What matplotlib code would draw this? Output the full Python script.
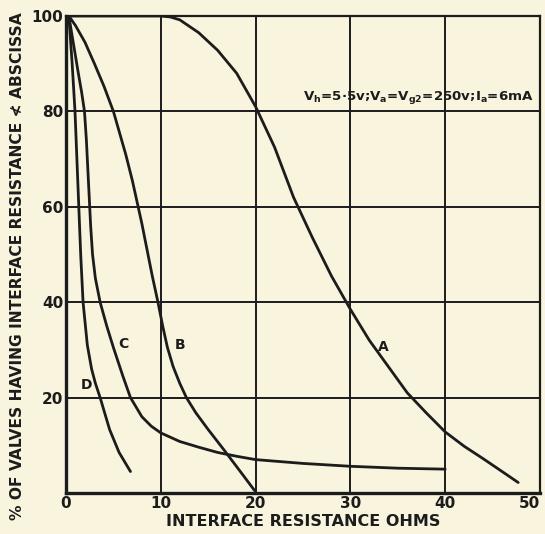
import matplotlib
matplotlib.use("Agg")
import matplotlib.pyplot as plt

# ---- data ----
x_ticks = [0, 10, 20, 30, 40, 50]
y_ticks = [20, 40, 60, 80, 100]

a_x = [0, 10, 11, 12, 14, 16, 18, 20, 22, 24, 26, 28, 30, 32, 34, 36, 38, 40, 42, 44, 46, 47.7]
a_y = [100, 100, 99.8, 99.2, 96.5, 92.8, 88, 81, 72.5, 62, 53.5, 45.5, 38.5, 32, 26.5, 21, 16.8, 12.8, 9.8, 7.2, 4.5, 2.2]

b_x = [0.3, 1.0, 2.0, 3.0, 4.0, 5.0, 6.3, 7.0, 7.5, 8.0, 8.5, 9.1, 9.7, 10.2, 10.7, 11.3, 12.0, 12.7, 13.7, 15.0, 16.6, 18.2, 19.9]
b_y = [100, 98, 94.5, 90, 85.3, 80, 71, 65.5, 61, 56.5, 51.5, 45.5, 40, 35, 30.5, 26.5, 23, 20, 16.8, 13.3, 9.2, 5, 0.5]

c_x = [0.3, 0.8, 1.3, 1.65, 1.95, 2.15, 2.3, 2.45, 2.6, 2.8, 3.1, 3.6, 4.3, 5.0, 6.0, 6.8, 8.0, 9.0, 10, 12, 14, 16, 18, 20, 25, 30, 35, 40]
c_y = [100, 94, 88, 84, 80, 74, 68, 62, 56, 50, 45, 40, 35, 30.5, 24.5, 20, 16, 14, 12.6, 10.8, 9.6, 8.5, 7.7, 7.0, 6.2, 5.6, 5.2, 5.0]

d_x = [0.3, 0.65, 0.95, 1.15, 1.35, 1.55, 1.8, 2.25, 2.7, 3.1, 3.6, 4.6, 5.6, 6.8]
d_y = [100, 90, 80, 70, 60, 50, 40, 31, 26, 23, 20, 13.3, 8.5, 4.5]

curve_labels = ["A", "B", "C", "D"]
label_x = [33.5, 12.0, 6.0, 2.2]
label_y = [30.7, 31.0, 31.3, 22.7]

note = r"V$_h$=5·5v;V$_a$=V$_{g2}$=250v;I$_a$=6mA"
x_label = "INTERFACE RESISTANCE OHMS"
y_label = "% OF VALVES HAVING INTERFACE RESISTANCE \u226e ABSCISSA"

# ---- style ----
bg = "#f8f4de"
ink = "#1c1c1c"
plt.rcParams["mathtext.fontset"] = "dejavusans"
plt.rcParams["mathtext.default"] = "bf"

fig = plt.figure(figsize=(5.45, 5.34), dpi=100, facecolor=bg)
ax = fig.add_axes([66 / 545, 1 - 493 / 534, 474 / 545, 477 / 534], facecolor=bg)
ax.set_xlim(0, 50)
ax.set_ylim(0, 100)

for gx in x_ticks[1:-1]:
    ax.axvline(gx, color=ink, lw=1.4, zorder=1)
for gy in y_ticks[:-1]:
    ax.axhline(gy, color=ink, lw=1.4, zorder=1)

for xs, ys in [(a_x, a_y), (b_x, b_y), (c_x, c_y), (d_x, d_y)]:
    ax.plot(xs, ys, color=ink, lw=2.0, solid_capstyle="round", solid_joinstyle="round", zorder=3)

for t, lx, ly in zip(curve_labels, label_x, label_y):
    ax.text(lx, ly, t, ha="center", va="center", fontsize=10, fontweight="bold", color=ink, zorder=4)

ax.text(25.0, 83.0, note, ha="left", va="center", fontsize=9.6, fontweight="bold", color=ink, zorder=4)

for side in ["left", "bottom"]:
    ax.spines[side].set_linewidth(2.4)
for side in ["top", "right"]:
    ax.spines[side].set_linewidth(1.6)
for s in ax.spines.values():
    s.set_color(ink)

ax.set_xticks(x_ticks)
ax.set_yticks(y_ticks)
ax.set_xticklabels([str(v) for v in x_ticks], fontsize=11, fontweight="bold", color=ink)
ax.set_yticklabels([str(v) for v in y_ticks], fontsize=11, fontweight="bold", color=ink)
ax.tick_params(length=0, pad=2)
for lbl in ax.get_xticklabels()[-1:]:
    lbl.set_ha("right")

fig.text(303 / 545, 1 - 521 / 534, x_label, ha="center", va="center", fontsize=11.5, fontweight="bold", color=ink)
fig.text(17 / 545, 1 - 266 / 534, y_label, ha="center", va="center", rotation=90, fontsize=11.2, fontweight="bold", color=ink)

fig.savefig("out.png", dpi=100, facecolor=bg)
